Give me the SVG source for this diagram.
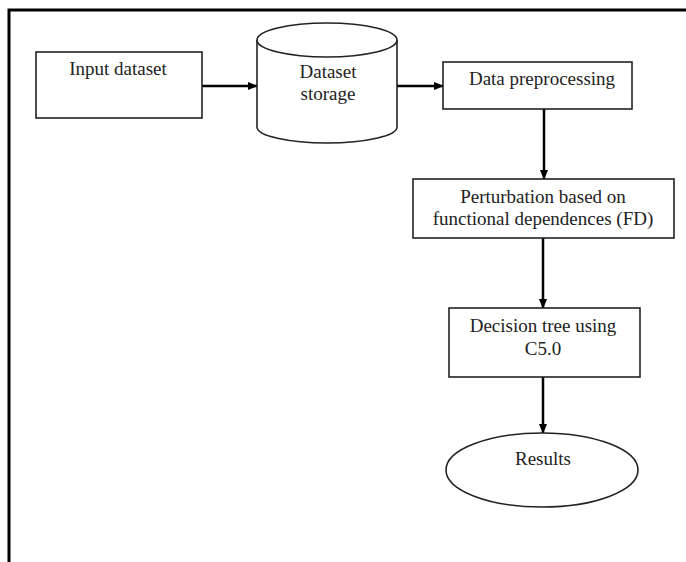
<svg xmlns="http://www.w3.org/2000/svg" width="686" height="562" viewBox="0 0 686 562">
<defs>
<marker id="ah" markerWidth="10" markerHeight="10" refX="9" refY="5" orient="auto" markerUnits="userSpaceOnUse">
<path d="M0,1 L10,5 L0,9 Z" fill="#000"/>
</marker>
<style>
.box{fill:#fff;stroke:#222;stroke-width:1.6}
.t{font-family:"Liberation Serif","Times New Roman",serif;font-size:19px;fill:#222;text-anchor:middle}
.c{stroke:#000;stroke-width:2.5;fill:none;marker-end:url(#ah)}
.frame{stroke:#000;stroke-width:3;fill:none}
</style>
</defs>
<rect width="686" height="562" fill="#fff"/>
<path class="frame" d="M9,562 V10 H686"/>
<g id="connectors">
<line class="c" x1="202" y1="86" x2="257" y2="86"/>
<line class="c" x1="397" y1="86" x2="443" y2="86"/>
<line class="c" x1="544" y1="109" x2="544" y2="179"/>
<line class="c" x1="543" y1="238" x2="543" y2="308"/>
<line class="c" x1="543" y1="377" x2="543" y2="433"/>
</g>
<g id="input-dataset">
<rect class="box" x="36" y="52" width="166" height="66"/>
<text class="t" x="118" y="75">Input dataset</text>
</g>
<g id="dataset-storage">
<path class="box" d="M257,40 V127 A70,16 0 0 0 397,127 V40"/>
<ellipse class="box" cx="327" cy="40" rx="70" ry="17"/>
<text class="t" x="328" y="78">Dataset</text>
<text class="t" x="328" y="100">storage</text>
</g>
<g id="data-preprocessing">
<rect class="box" x="443" y="62" width="189" height="47"/>
<text class="t" x="542" y="85">Data preprocessing</text>
</g>
<g id="perturbation">
<rect class="box" x="413" y="179" width="261" height="59"/>
<text class="t" x="543" y="203">Perturbation based on</text>
<text class="t" x="543" y="225">functional dependences (FD)</text>
</g>
<g id="decision-tree">
<rect class="box" x="449" y="308" width="191" height="69"/>
<text class="t" x="543" y="332">Decision tree using</text>
<text class="t" x="543" y="355">C5.0</text>
</g>
<g id="results">
<ellipse class="box" cx="542" cy="470" rx="96" ry="37"/>
<text class="t" x="543" y="465">Results</text>
</g>
</svg>
